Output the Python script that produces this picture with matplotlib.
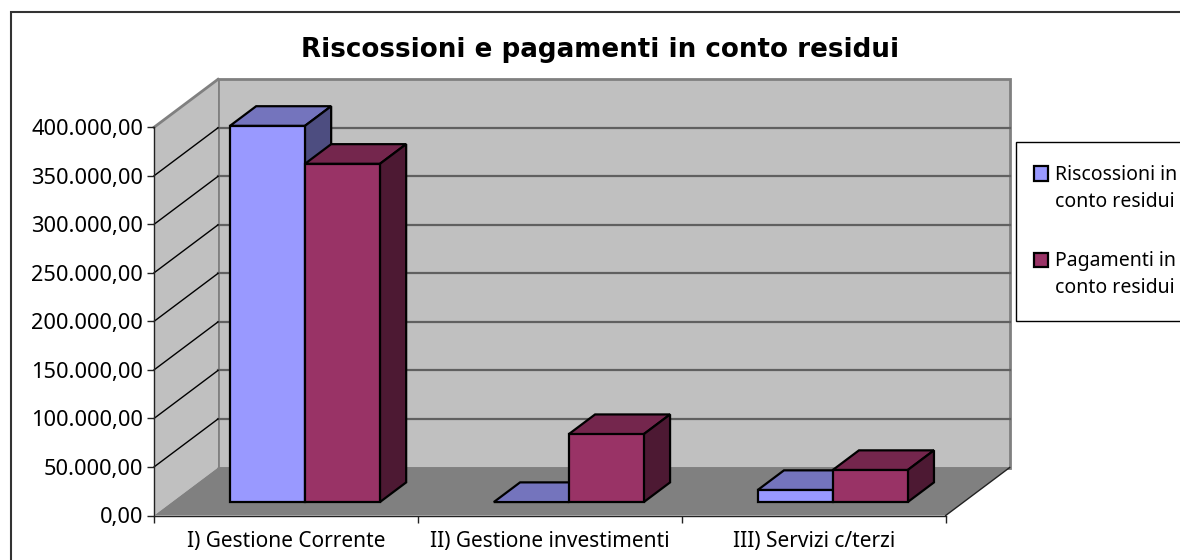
import matplotlib
matplotlib.use("Agg")
import matplotlib.pyplot as plt
from matplotlib.legend_handler import HandlerPatch
from matplotlib.patches import Rectangle

categories = ["I) Gestione Corrente", "II) Gestione investimenti", "III) Servizi c/terzi"]
riscossioni = [387600, 0, 12400]
pagamenti = [348500, 70000, 33000]
series_names = ["Riscossioni in\nconto residui", "Pagamenti in\nconto residui"]
yticks = [0, 50000, 100000, 150000, 200000, 250000, 300000, 350000, 400000]

W, H = 1180, 560
X0, X1 = 154.0, 945.7     # asse categorie, pixel
Y0, Y1 = 515.5, 127.3     # 0 e 400.000, pixel dall'alto
DEPTH_X = 64 / ((X1 - X0) / 3)       # profondita' in unita' dati
DEPTH_Y = 48 / ((Y0 - Y1) / 400000)
BAR_W = 75 / ((X1 - X0) / 3)
D_FRONT, D_BACK = 0.28, 0.69

plt.rcParams["font.family"] = ["Noto Sans", "DejaVu Sans"]


def proj(x, y, d):
    return x + d * DEPTH_X, y + d * DEPTH_Y


def face(ax, pts, color, lw=0.0, edge="none", z=2):
    xs, ys = zip(*[proj(*p) for p in pts])
    ax.fill(xs, ys, facecolor=color, edgecolor=edge, linewidth=lw, zorder=z,
            clip_on=False, joinstyle="miter")


def bar3d(ax, left, value, front, top, side, z):
    right = left + BAR_W
    y0 = 0
    face(ax, [(left, value, D_FRONT), (right, value, D_FRONT),
              (right, value, D_BACK), (left, value, D_BACK)], top, 1.6, "black", z)
    face(ax, [(right, y0, D_FRONT), (right, value, D_FRONT),
              (right, value, D_BACK), (right, y0, D_BACK)], side, 1.6, "black", z)
    if value > 0:
        bx, by = proj(left, y0, D_FRONT)
        ax.bar(bx, value, BAR_W, bottom=by, align="edge", color=front,
               edgecolor="black", linewidth=1.6, zorder=z + 0.1, clip_on=False)


def legend_key(legend, orig_handle, xdescent, ydescent, width, height, fontsize):
    # il quadratino sta all'altezza della prima riga
    return Rectangle((-xdescent - 4.5, -ydescent + 11.3), width, height)


def main():
    fig = plt.figure(figsize=(W / 100, H / 100), dpi=100, facecolor="white")
    fig.add_artist(Rectangle((10.5 / W, -20 / H), 1300 / W, (H + 20 - 12) / H,
                             transform=fig.transFigure, fill=False,
                             edgecolor="#333333", linewidth=1.5))
    ax = fig.add_axes([X0 / W, 1 - Y0 / H, (X1 - X0) / W, (Y0 - Y1) / H])
    ax.set_xlim(0, 3)
    ax.set_ylim(0, 400000)
    ax.patch.set_visible(False)
    for s in ["top", "right"]:
        ax.spines[s].set_visible(False)
    for s in ["left", "bottom"]:
        ax.spines[s].set_linewidth(1.0)
        ax.spines[s].set_color("#222222")
        ax.spines[s].set_zorder(6)

    # pareti e pavimento
    top = 400000
    face(ax, [(0, 0, 1), (3, 0, 1), (3, top, 1), (0, top, 1)], "#C0C0C0", 2.0, "#808080", 1)
    face(ax, [(0, 0, 0), (0, top, 0), (0, top, 1), (0, 0, 1)], "#C0C0C0", 0, "none", 1)
    (xa, ya), (xb, yb) = proj(0, top, 0), proj(0, top, 1)
    ax.plot([xa, xb], [ya, yb], color="#808080", lw=2.0, zorder=1.3, clip_on=False)
    face(ax, [(0, 0, 0), (3, 0, 0), (3, 0, 1), (0, 0, 1)], "#808080", 0, "none", 1.5)
    (xa, ya), (xb, yb) = proj(3, 0, 0), proj(3, 0, 1)
    ax.plot([xa, xb], [ya, yb], color="#222222", lw=1.0, zorder=1.6, clip_on=False)

    for v in yticks[1:-1]:
        (xa, ya), (xb, yb) = proj(0, v, 1), proj(3, v, 1)
        ax.plot([xa, xb], [ya, yb], color="#606060", lw=1.6, zorder=1.2, clip_on=False)
        (xa, ya), (xb, yb) = proj(0, v, 0), proj(0, v, 1)
        ax.plot([xa, xb], [ya, yb], color="black", lw=1.0, zorder=1.3, clip_on=False)

    # barre, da sinistra a destra
    for i in range(len(categories)):
        left = i + 0.504 - BAR_W
        bar3d(ax, left, riscossioni[i], "#9999FF", "#7474BD", "#4D4D80", 3 + i)
        bar3d(ax, left + BAR_W, pagamenti[i], "#993366", "#74264D", "#4D1933", 3.5 + i)

    ax.set_yticks(yticks)
    ax.set_yticklabels([f"{v:,.2f}".replace(",", "X").replace(".", ",").replace("X", ".") for v in yticks])
    ax.set_xticks([0, 1, 2, 3])
    ax.set_xticklabels([])
    ax.set_xticks([0.5, 1.5, 2.5], labels=categories, minor=True)
    ax.tick_params(axis="y", length=5, width=1, color="#222222", labelsize=15.7, pad=3)
    ax.tick_params(axis="x", which="major", length=5, width=1, color="#222222")
    ax.tick_params(axis="x", which="minor", length=0, labelsize=15, pad=11)

    fig.text(600 / W, 1 - 50 / H, "Riscossioni e pagamenti in conto residui",
             ha="center", va="center", fontsize=18.8, fontweight="bold", family="DejaVu Sans")

    handles = [Rectangle((0, 0), 1, 1, facecolor="#9999FF", edgecolor="black", linewidth=1.6),
               Rectangle((0, 0), 1, 1, facecolor="#993366", edgecolor="black", linewidth=1.6)]
    leg = fig.legend(handles, series_names, loc="upper left",
                     bbox_to_anchor=(1016.5 / W, 1 - 142 / H), fontsize=14,
                     frameon=True, fancybox=False, edgecolor="black", framealpha=1,
                     handlelength=0.75, handleheight=0.75, handletextpad=0.04,
                     borderpad=1.2, labelspacing=2.05, borderaxespad=0,
                     handler_map={Rectangle: HandlerPatch(patch_func=legend_key)})
    leg.get_frame().set_linewidth(1.0)
    for t in leg.get_texts():
        t.set_linespacing(1.42)

    fig.savefig("out.png", dpi=100)
    plt.close(fig)


if __name__ == "__main__":
    main()
